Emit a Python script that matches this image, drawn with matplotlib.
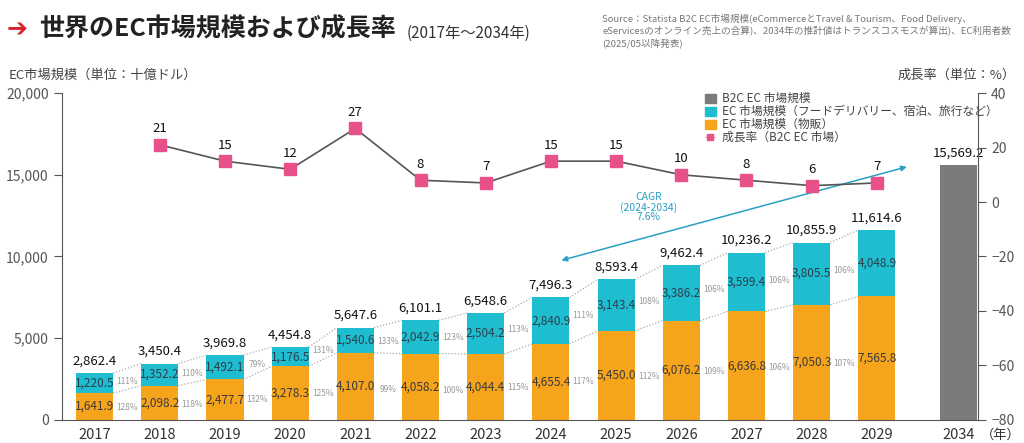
import matplotlib
matplotlib.use('Agg')
import matplotlib.pyplot as plt
from matplotlib.patches import Patch
from matplotlib.lines import Line2D

plt.rcParams['font.family'] = ['Noto Sans CJK JP', 'DejaVu Sans']

# データ
years = ['2017', '2018', '2019', '2020', '2021', '2022', '2023', '2024',
         '2025', '2026', '2027', '2028', '2029', '2034']
goods = [1641.9, 2098.2, 2477.7, 3278.3, 4107.0, 4058.2, 4044.4, 4655.4,
         5450.0, 6076.2, 6636.8, 7050.3, 7565.8]
services = [1220.5, 1352.2, 1492.1, 1176.5, 1540.6, 2042.9, 2504.2, 2840.9,
            3143.4, 3386.2, 3599.4, 3805.5, 4048.9]
totals = [2862.4, 3450.4, 3969.8, 4454.8, 5647.6, 6101.1, 6548.6, 7496.3,
          8593.4, 9462.4, 10236.2, 10855.9, 11614.6, 15569.2]
growth_years = years[1:13]
growth = [21, 15, 12, 27, 8, 7, 15, 15, 10, 8, 6, 7]
services_yoy = ['111%', '110%', '79%', '131%', '133%', '123%', '113%', '111%',
                '108%', '106%', '106%', '106%']
goods_yoy = ['128%', '118%', '132%', '125%', '99%', '100%', '115%', '117%',
             '112%', '109%', '106%', '107%']

c_goods = '#f5a41c'
c_serv = '#1fbdd0'
c_gray = '#7b7b7d'
c_pink = '#e8508a'
c_axis = '#555555'

x = list(range(13)) + [13.25]
w = 0.57

fig = plt.figure(figsize=(10.24, 4.43), dpi=100)
ax = fig.add_axes([0.0605, 0.052, 0.8945, 0.738])

ax.bar(x[:13], goods, width=w, color=c_goods, zorder=2)
ax.bar(x[:13], services, width=w, bottom=goods, color=c_serv, zorder=2)
ax.bar(x[13], totals[13], width=w, color=c_gray, zorder=2)

# 棒のラベル
for i in range(13):
    ax.text(x[i], goods[i] / 2, f'{goods[i]:,.1f}', ha='center', va='center',
            fontsize=8.5, color='#3a3a3a')
    ax.text(x[i], goods[i] + services[i] / 2, f'{services[i]:,.1f}', ha='center',
            va='center', fontsize=8.5, color='#2c3e4a')
for i in range(14):
    ax.text(x[i], totals[i] + 350, f'{totals[i]:,.1f}', ha='center', va='bottom',
            fontsize=9.5, color='#111111')

# 点線と前年比
for i in range(12):
    x0 = x[i] + w / 2
    x1 = x[i + 1] - w / 2
    tops = [goods[i] + services[i], goods[i + 1] + services[i + 1]]
    mids = [goods[i], goods[i + 1]]
    ax.plot([x0, x1], tops, ls=(0, (1, 1.5)), color='#aaaaaa', lw=0.9, zorder=1)
    ax.plot([x0, x1], mids, ls=(0, (1, 1.5)), color='#aaaaaa', lw=0.9, zorder=1)
    xm = (x[i] + x[i + 1]) / 2
    ax.text(xm, (mids[0] + mids[1]) / 2 + (tops[0] - mids[0] + tops[1] - mids[1]) / 4 - 150,
            services_yoy[i], ha='center', va='center', fontsize=6, color='#999999')
    ax.text(xm, (mids[0] + mids[1]) / 4 - 200, goods_yoy[i], ha='center',
            va='center', fontsize=6, color='#999999')

ax.set_xlim(-0.5, 13.55)
ax.set_ylim(0, 20000)
ax.set_yticks([0, 5000, 10000, 15000, 20000])
ax.set_yticklabels(['0', '5,000', '10,000', '15,000', '20,000'], fontsize=10, color=c_axis)
ax.set_xticks(x)
ax.set_xticklabels(years, fontsize=10.5, color='#333333')
ax.tick_params(axis='x', length=0, pad=6)
ax.tick_params(axis='y', length=6, color=c_axis, direction='out')
for s in ['top', 'right']:
    ax.spines[s].set_visible(False)
ax.spines['left'].set_color(c_axis)
ax.spines['bottom'].set_color(c_axis)

# CAGR 矢印
ax.annotate('', xy=(7.12, 9720), xytext=(12.5, 15530),
            arrowprops=dict(arrowstyle='<|-|>', color='#2a9fc4', lw=1.1,
                            mutation_scale=8))
ax.text(8.5, 13000, 'CAGR\n(2024-2034)\n7.6%', ha='center', va='center',
        fontsize=7.5, color='#2a9fc4', linespacing=0.95)

# 成長率（右軸）
ax2 = ax.twinx()
ax2.set_ylim(-80, 40)
ax2.set_yticks([-80, -60, -40, -20, 0, 20, 40])
ax2.tick_params(axis='y', length=6, color=c_axis, labelsize=10, labelcolor=c_axis)
for s in ['top', 'left', 'bottom']:
    ax2.spines[s].set_visible(False)
ax2.spines['right'].set_color(c_axis)
gx = x[1:13]
ax2.plot(gx, growth, color='#555555', lw=1.2, marker='s', markersize=8,
         markerfacecolor=c_pink, markeredgecolor=c_pink, zorder=3)
for xi, g in zip(gx, growth):
    ax2.text(xi, g + 3.5, str(g), ha='center', va='bottom', fontsize=9.5, color='#111111')

# 凡例
handles = [Patch(color=c_gray), Patch(color=c_serv), Patch(color=c_goods),
           Line2D([0], [0], color=c_pink, lw=0.8, ls=(0, (1, 1)), marker='s',
                  markersize=4, markerfacecolor=c_pink)]
labels = ['B2C EC 市場規模', 'EC 市場規模（フードデリバリー、宿泊、旅行など）',
          'EC 市場規模（物販）', '成長率（B2C EC 市場）']
ax2.legend(handles, labels, loc='upper left', bbox_to_anchor=(0.69, 1.035),
           frameon=False, fontsize=8.5, handlelength=1.0, handleheight=0.8,
           handletextpad=0.5, labelspacing=0.0, labelcolor='#444444')

# タイトルと注記
fig.text(0.006, 0.935, '➔', fontsize=18, color='#d9232d', fontweight='bold',
         va='center', family=['DejaVu Sans'])
fig.text(0.038, 0.935, '世界のEC市場規模および成長率', fontsize=18, fontweight='bold',
         color='#222222', va='center')
fig.text(0.397, 0.925, '(2017年～2034年)', fontsize=11, color='#333333', va='center')
fig.text(0.588, 0.968, 'Source：Statista B2C EC市場規模(eCommerceとTravel & Tourism、Food Delivery、\n'
         'eServicesのオンライン売上の合算)、2034年の推計値はトランスコスモスが算出)、EC利用者数\n'
         '(2025/05以降発表)', fontsize=6.9, color='#777777', va='top', linespacing=1.3)
fig.text(0.008, 0.83, 'EC市場規模（単位：十億ドル）', fontsize=9.5, color='#444444', va='center')
fig.text(0.992, 0.83, '成長率（単位：%）', fontsize=9.5, color='#444444', va='center', ha='right')
fig.text(0.997, 0.018, '（年）', fontsize=9.5, color='#333333', va='center', ha='right')

fig.savefig('out.png', dpi=100)
